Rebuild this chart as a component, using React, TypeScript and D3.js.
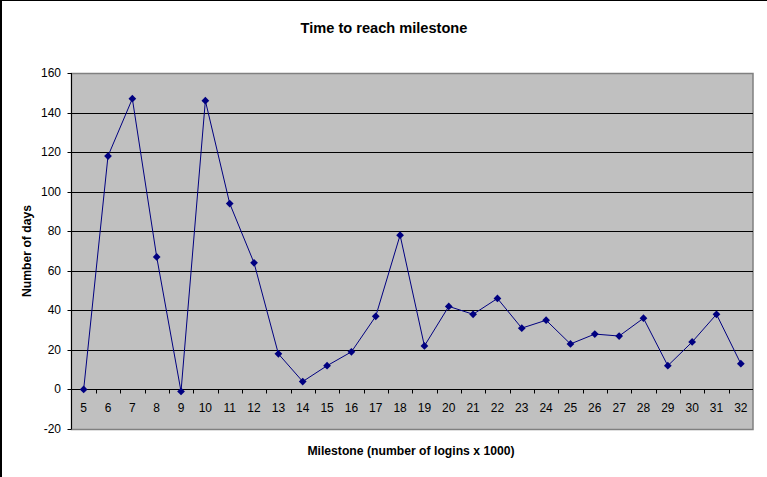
import React from "react";
import { scaleBand, scaleLinear, line, symbol, symbolSquare, range } from "d3";

const milestones = [
  "5", "6", "7", "8", "9", "10", "11", "12", "13", "14", "15", "16", "17", "18",
  "19", "20", "21", "22", "23", "24", "25", "26", "27", "28", "29", "30", "31", "32",
];
const days = [
  0, 118, 147, 67, -1, 146, 94, 64, 18, 4, 12, 19, 37, 78,
  22, 42, 38, 46, 31, 35, 23, 28, 27, 36, 12, 24, 38, 13,
];
const yTicks = range(-20, 161, 20);

const title = "Time to reach milestone";
const xTitle = "Milestone (number of logins x 1000)";
const yTitle = "Number of days";

const width = 767;
const height = 477;
const plotLeft = 71.5;
const plotRight = 753;
const plotTop = 73;
const plotBottom = 429;

const font = "'Liberation Sans', Arial, sans-serif";

const App: React.FC = () => {
  const x = scaleBand<string>().domain(milestones).range([plotLeft, plotRight]);
  const y = scaleLinear().domain([-20, 160]).range([plotBottom, plotTop]);
  const y0 = Math.round(y(0)) + 0.5;

  const path = line<number>()
    .x((_, i) => (x(milestones[i]) as number) + x.bandwidth() / 2)
    .y((d) => y(d))(days);

  // square turned 45deg, like the Excel diamond marker
  const marker = symbol().type(symbolSquare).size(30)() as string;

  return (
    <div style={{ position: "fixed", left: 0, top: 0 }}>
      <svg width={width} height={height} style={{ display: "block", background: "#fff" }}>
        {/* outer border (top and left only are visible) */}
        <line x1={0} x2={width} y1={0.5} y2={0.5} stroke="#000" />
        <line x1={1} x2={1} y1={0} y2={height} stroke="#000" strokeWidth={2} />

        {/* plot area */}
        <rect
          x={plotLeft}
          y={plotTop + 0.5}
          width={plotRight - plotLeft}
          height={plotBottom - plotTop}
          fill="#C0C0C0"
          stroke="#808080"
          strokeWidth={1.5}
        />

        {/* gridlines */}
        {yTicks
          .filter((t) => t > 0 && t < 160)
          .map((t) => (
            <line
              key={t}
              x1={plotLeft}
              x2={plotRight}
              y1={Math.round(y(t)) + 0.5}
              y2={Math.round(y(t)) + 0.5}
              stroke="#000"
            />
          ))}

        {/* y axis */}
        <line x1={plotLeft} x2={plotLeft} y1={plotTop} y2={plotBottom} stroke="#000" />
        {yTicks.map((t) => (
          <g key={t}>
            <line
              x1={plotLeft - 4}
              x2={plotLeft}
              y1={Math.round(y(t)) + 0.5}
              y2={Math.round(y(t)) + 0.5}
              stroke="#000"
            />
            <text
              x={61}
              y={y(t)}
              textAnchor="end"
              dominantBaseline="central"
              fontFamily={font}
              fontSize={12}
              fill="#000"
            >
              {t}
            </text>
          </g>
        ))}

        {/* x axis at zero */}
        <line x1={plotLeft} x2={plotRight} y1={y0} y2={y0} stroke="#000" />
        {milestones.map((m, i) => (
          <g key={m}>
            {i > 0 && (
              <line
                x1={Math.round(x(m) as number) + 0.5}
                x2={Math.round(x(m) as number) + 0.5}
                y1={y0}
                y2={y0 + 4}
                stroke="#000"
              />
            )}
            <text
              x={(x(m) as number) + x.bandwidth() / 2}
              y={408}
              textAnchor="middle"
              dominantBaseline="central"
              fontFamily={font}
              fontSize={12}
              fill="#000"
            >
              {m}
            </text>
          </g>
        ))}

        {/* series */}
        <path d={path ?? ""} fill="none" stroke="#000080" strokeWidth={1} />
        {days.map((d, i) => (
          <path
            key={i}
            d={marker}
            transform={`translate(${(x(milestones[i]) as number) + x.bandwidth() / 2},${y(d)}) rotate(45)`}
            fill="#000080"
          />
        ))}

        {/* titles */}
        <text
          x={384}
          y={33}
          textAnchor="middle"
          fontFamily={font}
          fontSize={14.6}
          fontWeight="bold"
          fill="#000"
        >
          {title}
        </text>
        <text
          x={411}
          y={455}
          textAnchor="middle"
          fontFamily={font}
          fontSize={12.2}
          fontWeight="bold"
          fill="#000"
        >
          {xTitle}
        </text>
        <text
          transform={`translate(27,${(plotTop + plotBottom) / 2}) rotate(-90)`}
          textAnchor="middle"
          dominantBaseline="central"
          fontFamily={font}
          fontSize={12.2}
          fontWeight="bold"
          fill="#000"
        >
          {yTitle}
        </text>
      </svg>
    </div>
  );
};

export default App;
